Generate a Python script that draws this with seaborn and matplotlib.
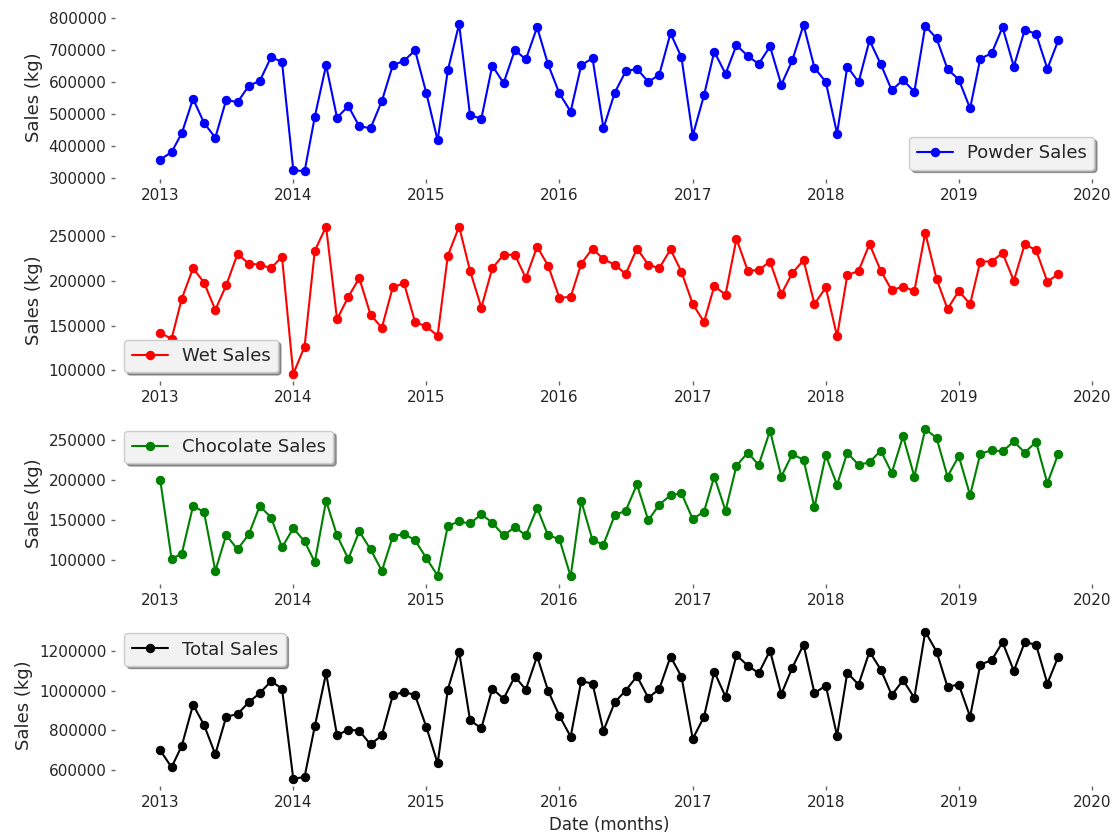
import numpy as np
import pandas as pd
import matplotlib
matplotlib.use("Agg")
import matplotlib.pyplot as plt
import matplotlib.dates as mdates
import matplotlib.ticker as mticker
import seaborn as sns

# monthly sales, Jan 2013 - Oct 2019
start_month = "2013-01-01"
n_months = 82

powder_sales = [358000, 381000, 440000, 548000, 473000, 426000, 545000, 537000, 589000, 604000, 678000, 664000,
                325000, 321000, 492000, 653000, 489000, 525000, 462000, 456000, 541000, 653000, 667000, 700000,
                566000, 418000, 637000, 782000, 496000, 486000, 652000, 597000, 701000, 671000, 772000, 656000,
                565000, 508000, 653000, 675000, 456000, 567000, 634000, 642000, 601000, 623000, 753000, 678000,
                433000, 559000, 696000, 626000, 716000, 682000, 657000, 712000, 592000, 668000, 779000, 645000,
                601000, 439000, 649000, 600000, 731000, 656000, 575000, 607000, 570000, 776000, 737000, 641000,
                608000, 518000, 674000, 690000, 772000, 649000, 764000, 751000, 642000, 731000]

wet_sales = [142000, 135000, 180000, 214000, 198000, 167500, 195000, 230000, 219000, 218000, 214000, 227000,
             96000, 126500, 233500, 260500, 157000, 182000, 203000, 162000, 147500, 193000, 197000, 154000,
             149000, 138500, 228000, 260500, 211000, 170000, 214000, 229000, 229000, 203000, 238000, 217000,
             181000, 182000, 219000, 236000, 224000, 218000, 207500, 236000, 218000, 214000, 235000, 210000,
             174000, 154000, 194000, 184500, 247000, 211000, 212000, 221500, 185000, 208500, 223000, 174000,
             192500, 138000, 206000, 211000, 241000, 211000, 189500, 193500, 188500, 253500, 202000, 168500,
             188500, 174000, 221500, 221500, 231000, 200000, 241000, 234000, 199000, 207500]

chocolate_sales = [200000, 101000, 107500, 167500, 160000, 86000, 131000, 113000, 132000, 167500, 153000, 115500,
                   139500, 123000, 97000, 174000, 130500, 101000, 135500, 113000, 86000, 129000, 132500, 124500,
                   102000, 80000, 142500, 148000, 145500, 157000, 146500, 130500, 141000, 130500, 165000, 130500,
                   126000, 79000, 174000, 124500, 119000, 156000, 161500, 194500, 149500, 169000, 181000, 183500,
                   151000, 160500, 204500, 161500, 218000, 234500, 219000, 262000, 204500, 232500, 225500, 166000,
                   231000, 194000, 234500, 219000, 222500, 237000, 209000, 255000, 204500, 264000, 253000, 204500,
                   230000, 181000, 233000, 237500, 236000, 248500, 234500, 248000, 196000, 233000]

total_sales = [700000, 616000, 723000, 929000, 828000, 681000, 869000, 882000, 942000, 987000, 1047000, 1010000,
               557000, 568000, 821000, 1087000, 776000, 804000, 799000, 730000, 776000, 976000, 994000, 977000,
               818000, 635000, 1005000, 1195000, 851000, 811000, 1010000, 959000, 1070000, 1005000, 1172000, 1000000,
               874000, 769000, 1047000, 1035000, 799000, 941000, 1000000, 1072000, 964000, 1007000, 1170000, 1070000,
               758000, 869000, 1095000, 969000, 1177000, 1125000, 1087000, 1200000, 982000, 1114000, 1230000, 987000,
               1025000, 774000, 1089000, 1030000, 1195000, 1105000, 977000, 1052000, 964000, 1295000, 1195000, 1019000,
               1030000, 869000, 1130000, 1152000, 1242000, 1099000, 1242000, 1230000, 1035000, 1170000]

series_labels = ["Powder Sales", "Wet Sales", "Chocolate Sales", "Total Sales"]
series_colors = ["blue", "red", "green", "black"]
legend_locs = ["lower right", "lower left", "upper left", "upper left"]
ytick_steps = [100000, 50000, 50000, 200000]

dates = pd.date_range(start_month, periods=n_months, freq="MS")

sns.set_style("white")
plt.rcParams["font.family"] = ["DejaVu Sans"]

fig, axes = plt.subplots(4, 1, figsize=(11.2, 8.33), dpi=100)
fig.subplots_adjust(left=0.103, right=0.985, top=0.98, bottom=0.056, hspace=0.25)

all_series = [powder_sales, wet_sales, chocolate_sales, total_sales]
for ax, values, label, color, loc, step in zip(axes, all_series, series_labels,
                                               series_colors, legend_locs, ytick_steps):
    sns.lineplot(x=dates, y=values, ax=ax, color=color, label=label,
                 marker="o", markersize=6, markeredgecolor=color, linewidth=1.5)
    for side in ["top", "right", "left", "bottom"]:
        ax.spines[side].set_visible(False)
    ax.xaxis.set_major_locator(mdates.YearLocator())
    ax.xaxis.set_major_formatter(mdates.DateFormatter("%Y"))
    ax.yaxis.set_major_locator(mticker.MultipleLocator(step))
    ax.ticklabel_format(axis="y", style="plain")
    ax.tick_params(axis="both", which="major", labelsize=11, length=3,
                   width=1, color="0.4", labelcolor="0.15", bottom=True, left=True)
    ax.set_ylabel("Sales (kg)", fontsize=13, color="0.15")
    ax.set_xlabel("")
    leg = ax.legend(loc=loc, fontsize=13, frameon=True, fancybox=True, shadow=True)
    leg.get_frame().set_facecolor("#f2f2f2")
    leg.get_frame().set_edgecolor("0.8")
    leg.get_frame().set_alpha(1)

axes[-1].set_xlabel("Date (months)", fontsize=12, color="0.15")

plt.savefig("out.png", dpi=100)
